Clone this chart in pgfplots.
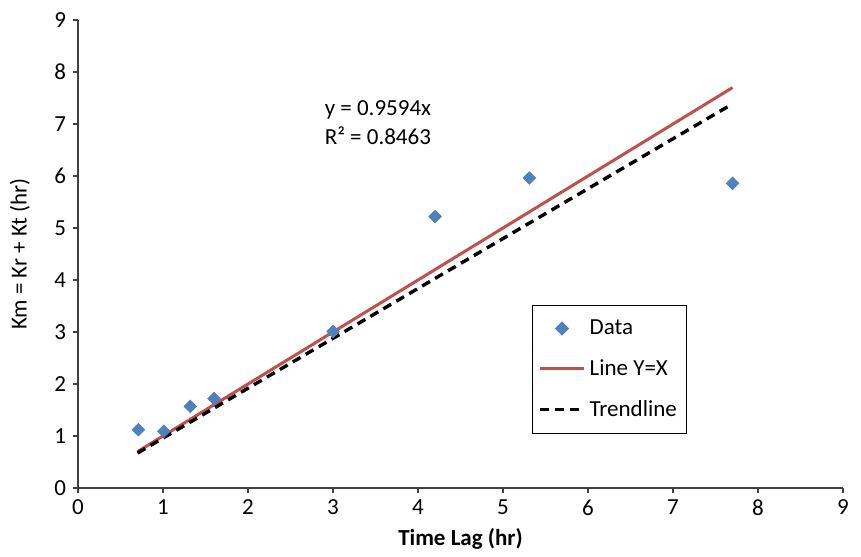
\documentclass[border=0pt]{standalone}
\usepackage{fontspec}
\setmainfont{Carlito}
\usepackage{pgfplots}
\pgfplotsset{compat=1.18}

\definecolor{dataBlue}{RGB}{79,129,189}
\definecolor{lineRed}{RGB}{192,80,77}
\definecolor{axisGray}{RGB}{64,64,64}

\begin{document}
\begin{tikzpicture}[font=\fontsize{11.5}{14.5}\selectfont]
\begin{axis}[
    scale only axis,
    width=382.5pt,
    height=234pt,
    xmin=0, xmax=9,
    ymin=0, ymax=9,
    xtick={0,...,9},
    ytick={0,...,9},
    axis lines=left,
    axis line style={-, axisGray, line width=0.8pt},
    tick style={axisGray, line width=0.8pt},
    tick align=outside,
    major tick length=2.5pt,
    /pgf/number format/assume math mode=true,
    xlabel={\bfseries Time Lag (hr)},
    ylabel={Km = Kr + Kt (hr)},
    every axis x label/.style={at={(rel axis cs:0.5,-0.109)}, anchor=center},
    every axis y label/.style={at={(rel axis cs:-0.076,0.5)}, anchor=center, rotate=90},
    clip=false,
    legend cell align=left,
    legend style={
        at={(rel axis cs:0.593,0.391)}, anchor=north west,
        draw=black, line width=0.6pt,
        row sep=7pt, inner xsep=3pt, inner ysep=5pt,
        font=\fontsize{11.5}{14.5}\selectfont,
    },
    legend image code/.code={
        \draw[mark repeat=2,mark phase=2] plot coordinates {(0pt,0pt) (11pt,0pt) (22pt,0pt)};
    },
]

% diamonds drawn as squares turned by 45 degrees
\addplot[only marks, mark=square*, mark size=2.2pt, mark options={rotate=45}, color=dataBlue] coordinates {
    (0.71,1.12)
    (1.01,1.09)
    (1.32,1.57)
    (1.60,1.72)
    (3.00,3.01)
    (4.20,5.22)
    (5.31,5.96)
    (7.70,5.86)
};
\addlegendentry{Data}

\addplot[lineRed, line width=1.5pt] coordinates {
    (0.70,0.70)
    (7.70,7.70)
};
\addlegendentry{Line Y=X}

\addplot[black, line width=1.7pt, dash pattern=on 4.5pt off 3pt] coordinates {
    (0.70,0.6716)
    (7.70,7.3874)
};
\addlegendentry{Trendline}

\node[anchor=west, align=left] at (axis cs:2.82,7.03) {y = 0.9594x\\R² = 0.8463};

% page extent of the reference
\path (rel axis cs:-0.102,-0.141) rectangle (rel axis cs:1.0235,1.0427);
\end{axis}
\end{tikzpicture}
\end{document}
